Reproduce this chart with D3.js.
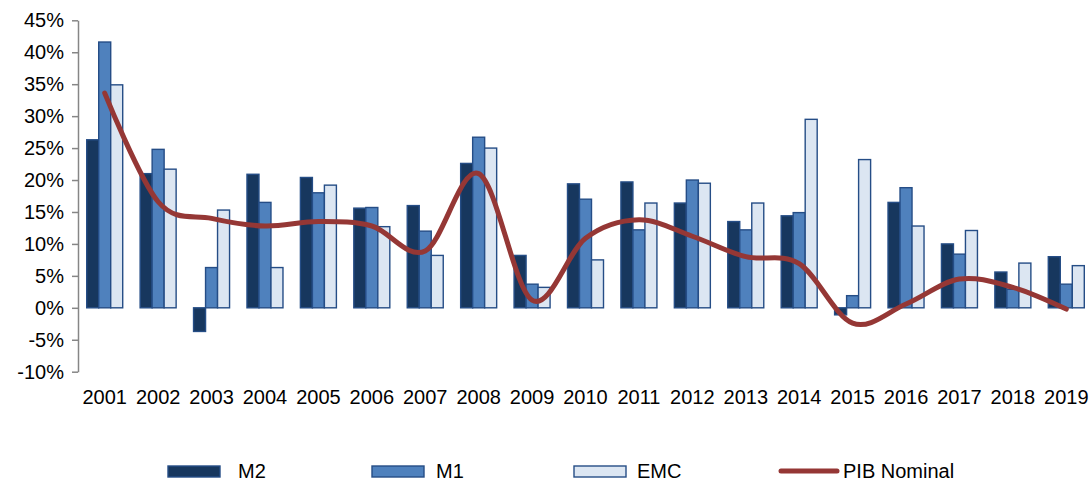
<!DOCTYPE html>
<html>
<head>
<meta charset="utf-8">
<script src="https://cdn.jsdelivr.net/npm/d3@7"></script>
<style>
  html, body { margin: 0; padding: 0; background: #fff; }
  svg { display: block; font-family: "Liberation Sans", Arial, sans-serif; }
</style>
</head>
<body>
<svg id="chart" width="1091" height="481"></svg>
<script>
const years = ["2001","2002","2003","2004","2005","2006","2007","2008","2009","2010","2011","2012","2013","2014","2015","2016","2017","2018","2019"];
const m2  = [26.3, 21.0, -3.7, 20.9, 20.4, 15.6, 16.0, 22.6, 8.2, 19.4, 19.7, 16.4, 13.5, 14.4, -1.1, 16.5, 10.0, 5.6, 8.0];
const m1  = [41.6, 24.8, 6.3, 16.5, 18.0, 15.7, 12.0, 26.7, 3.7, 17.0, 12.2, 20.0, 12.2, 14.9, 1.9, 18.8, 8.4, 2.9, 3.7];
const emc = [34.9, 21.7, 15.3, 6.3, 19.2, 12.7, 8.2, 25.0, 3.2, 7.5, 16.4, 19.5, 16.4, 29.5, 23.2, 12.8, 12.1, 7.0, 6.6];
const pib = [33.6, 16.6, 14.0, 12.8, 13.5, 12.8, 8.9, 21.0, 1.2, 10.9, 13.8, 11.2, 8.0, 6.9, -2.4, 0.6, 4.5, 3.2, -0.2];
const yTicks = [-10, -5, 0, 5, 10, 15, 20, 25, 30, 35, 40, 45];
const seriesNames = ["M2", "M1", "EMC"];
const lineName = "PIB Nominal";

const barSeries = [
  { name: "M2",  values: m2,  fill: "#17375e" },
  { name: "M1",  values: m1,  fill: "#4f81bd" },
  { name: "EMC", values: emc, fill: "#dce6f2" }
];
const barStroke = "#254d86";
const lineColor = "#953735";

const svg = d3.select("#chart");

const x0 = d3.scaleBand().domain(years).range([78, 1093]).padding(0);
const bw = x0.bandwidth();
const x1 = d3.scaleBand().domain(seriesNames).range([bw * 0.163, bw * 0.837]).padding(0);
const y = d3.scaleLinear().domain([-10, 45]).range([371.7, 20.3]);

// Y axis
const yAxis = d3.axisLeft(y).tickValues(yTicks).tickFormat(d => d + "%").tickSize(6).tickSizeOuter(0);
const gy = svg.append("g").attr("transform", "translate(78,0)").call(yAxis);
gy.select(".domain").attr("stroke", "#868686").attr("stroke-width", 1.5);
gy.selectAll(".tick line").attr("stroke", "#868686").attr("stroke-width", 1.5);
gy.selectAll(".tick text").attr("font-size", 20).attr("fill", "#000").attr("x", -14)
  .attr("font-family", "Liberation Sans, Arial, sans-serif");

// Bars
const groups = svg.append("g").selectAll("g")
  .data(years).join("g")
  .attr("transform", d => `translate(${x0(d)},0)`);

groups.selectAll("rect")
  .data((d, i) => barSeries.map(s => ({ name: s.name, v: s.values[i], fill: s.fill })))
  .join("rect")
  .attr("x", d => x1(d.name))
  .attr("width", x1.bandwidth())
  .attr("y", d => y(Math.max(0, d.v)))
  .attr("height", d => Math.abs(y(d.v) - y(0)))
  .attr("fill", d => d.fill)
  .attr("stroke", barStroke)
  .attr("stroke-width", 1.4);

// X axis labels (no axis line)
const xAxis = d3.axisBottom(x0).tickSize(0);
const gx = svg.append("g").attr("transform", "translate(0,380)").call(xAxis);
gx.select(".domain").remove();
gx.selectAll(".tick text").attr("font-size", 20).attr("fill", "#000").attr("dy", "0.71em").attr("y", 10)
  .attr("font-family", "Liberation Sans, Arial, sans-serif");

// PIB line
const line = d3.line()
  .x((d, i) => x0(years[i]) + bw / 2)
  .y(d => y(d))
  .curve(d3.curveCardinal.tension(0));
svg.append("path")
  .datum(pib)
  .attr("d", line)
  .attr("fill", "none")
  .attr("stroke", lineColor)
  .attr("stroke-width", 5)
  .attr("stroke-linecap", "round")
  .attr("stroke-linejoin", "round");

// Legend
const legend = svg.append("g");
const legendItems = [
  { name: "M2",  fill: "#17375e", x: 168, tx: 238 },
  { name: "M1",  fill: "#4f81bd", x: 372, tx: 436 },
  { name: "EMC", fill: "#dce6f2", x: 574, tx: 637 }
];
legendItems.forEach(it => {
  legend.append("rect").attr("x", it.x).attr("y", 466).attr("width", 52).attr("height", 11)
    .attr("fill", it.fill).attr("stroke", barStroke).attr("stroke-width", 1.4);
  legend.append("text").attr("x", it.tx).attr("y", 478).attr("font-size", 20).attr("fill", "#000").text(it.name);
});
legend.append("line").attr("x1", 781).attr("x2", 837).attr("y1", 471).attr("y2", 471)
  .attr("stroke", lineColor).attr("stroke-width", 5).attr("stroke-linecap", "round");
legend.append("text").attr("x", 843).attr("y", 478).attr("font-size", 20).attr("fill", "#000").text(lineName);
</script>
</body>
</html>
